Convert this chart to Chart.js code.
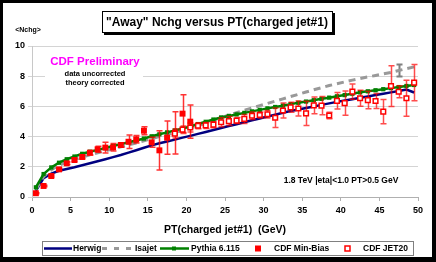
<!DOCTYPE html>
<html>
<head>
<meta charset="utf-8">
<script src="https://cdn.jsdelivr.net/npm/chart.js@4.4.1/dist/chart.umd.min.js"></script>
<style>
  html, body { margin: 0; padding: 0; background: #000; }
  canvas { display: block; }
</style>
</head>
<body>
<canvas id="chart" width="436" height="262"></canvas>
<script>
// PT bins of the theory curves (GeV)
const ptBins = [0.5, 1.5, 2.5, 3.5, 4.5, 5.5, 6.5, 7.5, 8.5, 9.5,
  10.5, 11.5, 12.5, 13.5, 14.5, 15.5, 16.5, 17.5, 18.5, 19.5,
  20.5, 21.5, 22.5, 23.5, 24.5, 25.5, 26.5, 27.5, 28.5, 29.5,
  30.5, 31.5, 32.5, 33.5, 34.5, 35.5, 36.5, 37.5, 38.5, 39.5,
  40.5, 41.5, 42.5, 43.5, 44.5, 45.5, 46.5, 47.5, 48.5, 49.5];

const herwig = [0.40, 1.25, 1.55, 1.74, 1.86, 1.97, 2.10, 2.23, 2.37, 2.50,
  2.64, 2.78, 2.94, 3.10, 3.26, 3.42, 3.56, 3.68, 3.80, 3.93,
  4.05, 4.18, 4.31, 4.44, 4.57, 4.70, 4.82, 4.95, 5.08, 5.20,
  5.33, 5.45, 5.58, 5.70, 5.80, 5.90, 6.00, 6.10, 6.20, 6.30,
  6.39, 6.48, 6.57, 6.66, 6.75, 6.84, 6.93, 7.02, 7.12, 6.92];

const isajet = [0.50, 1.35, 1.80, 2.10, 2.30, 2.48, 2.64, 2.79, 2.93, 3.06,
  3.19, 3.32, 3.45, 3.58, 3.72, 3.87, 4.00, 4.13, 4.27, 4.42,
  4.57, 4.72, 4.88, 5.06, 5.25, 5.42, 5.58, 5.74, 5.90, 6.05,
  6.20, 6.35, 6.50, 6.65, 6.80, 6.95, 7.10, 7.24, 7.38, 7.50,
  7.62, 7.74, 7.85, 7.95, 8.05, 8.15, 8.25, 8.38, 8.50, 8.62];

const isajetErr = [null, null, null, null, null, null, null, null, null, null,
  null, null, null, null, null, null, null, null, null, null,
  null, null, null, null, null, null, null, null, null, null,
  null, null, null, null, null, null, null, null, null, null,
  null, null, null, null, null, null, null, 0.40, null, null];

const pythia = [0.64, 1.52, 1.96, 2.27, 2.50, 2.68, 2.86, 3.00, 3.12, 3.24,
  3.38, 3.50, 3.62, 3.74, 3.87, 4.02, 4.15, 4.28, 4.41, 4.54,
  4.67, 4.83, 4.98, 5.13, 5.27, 5.37, 5.47, 5.57, 5.67, 5.77,
  5.87, 5.96, 6.05, 6.15, 6.24, 6.32, 6.41, 6.50, 6.58, 6.67,
  6.75, 6.84, 6.93, 7.00, 7.07, 7.14, 7.21, 7.28, 7.35, 7.42];

// CDF Min-Bias data
const minBiasPt = [0.5, 1.5, 2.5, 3.5, 4.5, 5.5, 6.5, 7.5, 8.5, 9.5,
  10.5, 11.5, 12.5, 13.5, 14.5, 15.5, 16.5, 17.5, 18.5, 19.5, 20.5];
const minBias = [0.25, 0.73, 1.39, 1.83, 2.23, 2.45, 2.65, 2.93, 3.16, 3.27,
  3.29, 3.44, 3.66, 3.82, 4.39, 3.62, 3.09, 3.93, 4.25, 5.52, 4.99];
const minBiasErr = [0.03, 0.05, 0.07, 0.08, 0.08, 0.10, 0.12, 0.15, 0.20, 0.35,
  0.25, 0.15, 0.45, 0.25, 0.27, 0.33, 1.30, 1.10, 1.40, 1.25, 1.10];

// CDF JET20 data
const jet20Pt = [18.5, 19.5, 20.5, 21.5, 22.5, 23.5, 24.5, 25.5, 26.5, 27.5,
  28.5, 29.5, 30.5, 31.5, 32.5, 33.5, 34.5, 35.5, 36.5, 37.5,
  38.5, 39.5, 40.5, 41.5, 42.5, 43.5, 44.5, 45.5, 46.5, 47.5, 48.5, 49.5];
const jet20 = [4.20, 4.46, 4.60, 4.72, 4.74, 4.79, 4.95, 5.03, 5.06, 5.17,
  5.38, 5.43, 5.48, 5.25, 5.73, 5.94, 5.86, 5.54, 6.07, 6.05,
  5.40, 6.37, 6.22, 6.98, 6.54, 6.42, 6.36, 5.65, 7.35, 6.97, 6.54, 7.57];
const jet20Err = [0.30, 0.25, 0.30, 0.20, 0.20, 0.20, 0.30, 0.30, 0.20, 0.30,
  0.25, 0.20, 0.25, 0.65, 0.50, 0.33, 0.50, 0.80, 0.55, 0.60,
  0.22, 0.55, 0.80, 0.50, 0.53, 0.58, 0.50, 0.80, 1.35, 0.40, 1.20, 1.20];

const yTicks = [0, 2, 4, 6, 8, 10];

const FONT = '"Liberation Sans", Arial, sans-serif';

function points(xs, ys) {
  return xs.map((x, i) => ({ x, y: ys[i] }));
}

// vertical error bars, drawn under each dataset's markers
const errorBars = {
  id: 'errorBars',
  beforeDatasetDraw(chart, args) {
    const ds = chart.data.datasets[args.index];
    if (!ds.errs) return;
    const xs = chart.scales.x, ys = chart.scales.y, c = chart.ctx;
    c.save();
    c.strokeStyle = ds.errColor;
    c.lineWidth = ds.errWidth || 1.5;
    ds.data.forEach((p, i) => {
      const e = ds.errs[i];
      if (e == null) return;
      const px = Math.round(xs.getPixelForValue(p.x)) + 0.5;
      const top = ys.getPixelForValue(p.y + e);
      const bot = ys.getPixelForValue(p.y - e);
      c.beginPath();
      c.moveTo(px, top); c.lineTo(px, bot);
      c.moveTo(px - 3, top); c.lineTo(px + 3, top);
      c.moveTo(px - 3, bot); c.lineTo(px + 3, bot);
      c.stroke();
    });
    c.restore();
  }
};

// frame, title box, notes and the boxed legend
const decor = {
  id: 'decor',
  beforeDraw(chart) {
    const c = chart.ctx;
    c.save();
    c.fillStyle = '#000';
    c.fillRect(0, 0, 436, 262);
    c.fillStyle = '#fff';
    c.fillRect(3, 3, 429, 254);
    c.restore();
  },
  beforeDatasetsDraw(chart) {
    const c = chart.ctx;
    c.save();
    c.fillStyle = '#fff';
    c.fillRect(45, 51, 98, 39);
    c.restore();
  },
  afterDraw(chart) {
    const c = chart.ctx;
    c.save();
    // title box with shadow
    c.fillStyle = '#000';
    c.fillRect(104, 13, 231, 22);
    c.fillStyle = '#fff';
    c.fillRect(102, 11, 231, 22);
    c.strokeStyle = '#000';
    c.lineWidth = 1;
    c.strokeRect(102.5, 11.5, 230, 21);
    c.fillStyle = '#000';
    c.textAlign = 'center';
    c.textBaseline = 'middle';
    c.font = 'bold 12px ' + FONT;
    c.fillText('"Away" Nchg versus PT(charged jet#1)', 217, 22.5);

    c.font = 'bold 7px ' + FONT;
    c.fillText('<Nchg>', 28, 30);

    c.fillStyle = '#ff00ff';
    c.font = 'bold 11.5px ' + FONT;
    c.fillText('CDF Preliminary', 95, 62);
    c.fillStyle = '#000';
    c.font = 'bold 7.5px ' + FONT;
    c.fillText('data uncorrected', 95, 73.5);
    c.fillText('theory corrected', 95, 83);

    c.font = 'bold 8.5px ' + FONT;
    c.fillText('1.8 TeV |eta|<1.0 PT>0.5 GeV', 341, 181);

    // legend
    c.strokeStyle = '#808080';
    c.strokeRect(42.5, 241.5, 371, 14);
    const ly = 248.5;
    c.lineWidth = 2.5;
    c.strokeStyle = '#000080';
    c.beginPath(); c.moveTo(44, ly); c.lineTo(72, ly); c.stroke();
    c.strokeStyle = '#999999';
    c.lineWidth = 3;
    c.setLineDash([5, 7]);
    c.beginPath(); c.moveTo(102, ly); c.lineTo(132, ly); c.stroke();
    c.setLineDash([]);
    c.strokeStyle = '#008000';
    c.lineWidth = 2.5;
    c.beginPath(); c.moveTo(160, ly); c.lineTo(189, ly); c.stroke();
    c.fillStyle = '#008000';
    c.fillRect(172, ly - 2, 4, 4);
    c.fillStyle = '#ff0000';
    c.fillRect(255, ly - 3, 6, 6);
    c.fillStyle = '#fff';
    c.fillRect(345, ly - 2.5, 5, 5);
    c.strokeStyle = '#ff0000';
    c.lineWidth = 1.5;
    c.strokeRect(345, ly - 2.5, 5, 5);

    c.fillStyle = '#000';
    c.textAlign = 'left';
    c.font = 'bold 8.5px ' + FONT;
    c.fillText('Herwig', 73, ly);
    c.fillText('Isajet', 135, ly);
    c.fillText('Pythia 6.115', 191, ly);
    c.fillText('CDF Min-Bias', 274, ly);
    c.fillText('CDF JET20', 363, ly);
    c.restore();
  }
};

new Chart(document.getElementById('chart'), {
  type: 'line',
  data: {
    datasets: [
      {
        label: 'Herwig',
        data: points(ptBins, herwig),
        borderColor: '#000080',
        borderWidth: 2.5,
        pointRadius: 0,
        order: 4
      },
      {
        label: 'Isajet',
        data: points(ptBins, isajet),
        borderColor: '#999999',
        borderWidth: 3,
        borderDash: [7, 5],
        pointRadius: 0,
        errs: isajetErr,
        errColor: '#808080',
        errWidth: 2,
        order: 3
      },
      {
        label: 'Pythia 6.115',
        data: points(ptBins, pythia),
        borderColor: '#008000',
        borderWidth: 2.5,
        pointStyle: 'rect',
        pointRadius: 3,
        pointBackgroundColor: '#008000',
        pointBorderWidth: 0,
        order: 2
      },
      {
        label: 'CDF Min-Bias',
        data: points(minBiasPt, minBias),
        showLine: false,
        pointStyle: 'rect',
        pointRadius: 4.2,
        pointBackgroundColor: '#ff0000',
        pointBorderWidth: 0,
        errs: minBiasErr,
        errColor: 'rgba(255,0,0,0.8)',
        order: 1
      },
      {
        label: 'CDF JET20',
        data: points(jet20Pt, jet20),
        showLine: false,
        pointStyle: 'rect',
        pointRadius: 3.3,
        pointBackgroundColor: '#ffffff',
        pointBorderColor: '#ff0000',
        pointBorderWidth: 1.5,
        errs: jet20Err,
        errColor: 'rgba(255,0,0,0.7)',
        order: 0
      }
    ]
  },
  options: {
    responsive: false,
    animation: false,
    devicePixelRatio: 1,
    layout: { padding: { left: 0, right: 18, top: 46, bottom: 25 } },
    plugins: { legend: { display: false }, tooltip: { enabled: false } },
    elements: { line: { tension: 0 } },
    scales: {
      x: {
        type: 'linear',
        min: 0,
        max: 50,
        afterFit: s => { s.height = 40; },
        ticks: { stepSize: 5, color: '#000', padding: 4, font: { family: FONT, size: 9, weight: 'bold' } },
        grid: { drawOnChartArea: false, drawTicks: true, tickLength: 4, color: '#b0b0b0' },
        border: { color: '#b0b0b0' },
        title: {
          display: true,
          text: 'PT(charged jet#1)  (GeV)',
          color: '#000',
          padding: { top: 0, bottom: 1 },
          font: { family: FONT, size: 10.5, weight: 'bold' }
        }
      },
      y: {
        min: 0,
        max: 10,
        afterFit: s => { s.width = 32; },
        afterBuildTicks: s => { s.ticks = yTicks.map(v => ({ value: v })); },
        ticks: { color: '#000', padding: 3, font: { family: FONT, size: 9, weight: 'bold' } },
        grid: { color: '#d4d4d4', tickLength: 4 },
        border: { color: '#c8c8c8' }
      }
    }
  },
  plugins: [decor, errorBars]
});
</script>
</body>
</html>
